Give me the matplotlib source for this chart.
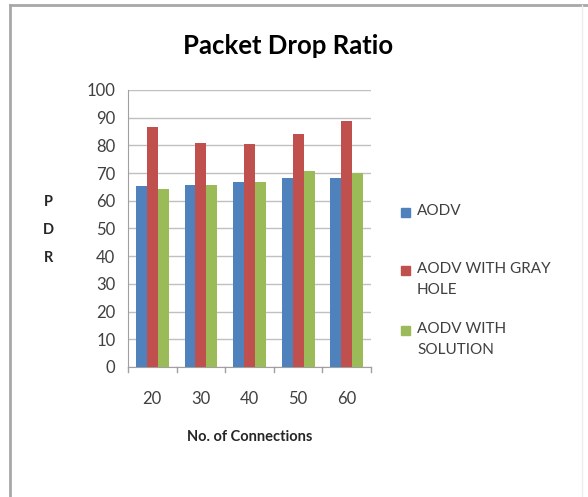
import numpy as np
import matplotlib.pyplot as plt
from matplotlib.patches import Rectangle
from matplotlib.lines import Line2D

plt.rcParams['font.family'] = ['Lato', 'DejaVu Sans']

# PDR per number of connections
connections = ['20', '30', '40', '50', '60']
aodv = [65.4, 65.6, 66.7, 68.1, 68.1]
aodv_grayhole = [86.8, 81.0, 80.6, 84.1, 88.9]
aodv_solution = [64.2, 65.6, 66.7, 70.6, 70.0]

series_names = ['AODV', 'AODV WITH GRAY\nHOLE', 'AODV WITH\nSOLUTION']
colors = ['#4F81BD', '#C0504D', '#9BBB59']

fig = plt.figure(figsize=(5.88, 4.97), dpi=100)
ax = fig.add_axes([0.2177, 0.2616, 0.4133, 0.5574])

x = np.arange(len(connections))
w = 0.225
for i, (vals, c) in enumerate(zip([aodv, aodv_grayhole, aodv_solution], colors)):
    ax.bar(x + (i - 1) * w, vals, w, color=c, zorder=3)

ax.set_xlim(-0.5, len(connections) - 0.5)
ax.set_ylim(0, 100)
ax.set_yticks(range(0, 101, 10))
ax.set_xticks(x)
ax.set_xticklabels(connections)
ax.yaxis.grid(True, color='#C0C0C0', linewidth=1, zorder=0)
for s in ['top', 'right']:
    ax.spines[s].set_visible(False)
for s in ['left', 'bottom']:
    ax.spines[s].set_color('#A0A0A0')
ax.tick_params(axis='y', length=0, pad=9, labelsize=12, labelcolor='#404040')
ax.tick_params(axis='x', length=0, pad=17, labelsize=12, labelcolor='#404040')
# category separator ticks on the x axis
for b in np.arange(-0.5, len(connections), 1.0):
    ax.plot([b, b], [0, -1.8], color='#A0A0A0', lw=1, clip_on=False)

fig.text(0.49, 0.908, 'Packet Drop Ratio', ha='center', va='center',
         fontsize=18.5, fontweight='bold', color='#000000')
fig.text(0.424, 0.121, 'No. of Connections', ha='center', va='center',
         fontsize=10.5, fontweight='bold', color='#262626')
for k, ch in enumerate('PDR'):
    fig.text(0.082, 1 - (202 + 28 * k) / 497, ch, ha='center', va='center',
             fontsize=10.5, fontweight='bold', color='#262626')

# legend drawn by hand so each swatch sits on the first label line
legend_y = [212, 270, 330]
for name, c, py in zip(series_names, colors, legend_y):
    fy = 1 - py / 497
    fig.patches.append(Rectangle((401 / 588, fy - 4.5 / 497), 9 / 588, 9 / 497,
                                 transform=fig.transFigure, color=c))
    fig.text(417 / 588, fy + 8 / 497, name, ha='left', va='top',
             fontsize=11, color='#404040', linespacing=1.65)

# outer frame
fig.lines.append(Line2D([10 / 588, 10 / 588], [0, 1 - 5 / 497],
                        transform=fig.transFigure, color='#A8A8A8', lw=2))
fig.lines.append(Line2D([10 / 588, 1], [1 - 5 / 497, 1 - 5 / 497],
                        transform=fig.transFigure, color='#A8A8A8', lw=2))
fig.lines.append(Line2D([582 / 588, 582 / 588], [0, 1 - 5 / 497],
                        transform=fig.transFigure, color='#EDEDED', lw=1))

fig.savefig('out.png', dpi=100)
